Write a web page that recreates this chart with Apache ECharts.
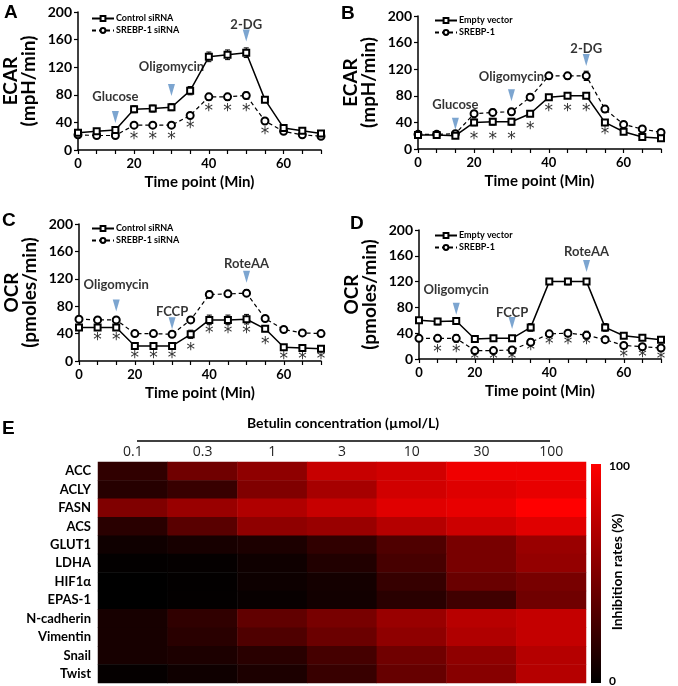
<!DOCTYPE html>
<html>
<head>
<meta charset="utf-8">
<script src="https://cdn.jsdelivr.net/npm/echarts@6/dist/echarts.min.js"></script>
<style>
    html, body{ margin: 0; padding: 0; background: #fff;}
    #chart{ width: 678px; height: 686px;}
</style>
</head>
<body>
<div id="chart"></div>
<script>
// time points (min), only some are labelled
var times = ['0', '7', '13', '20', '25', '30', '35', '40', '45', '50', '55', '60', '65', '70'];
var shownTimes = ['0', '20', '40', '60'];

// A - ECAR, siRNA
var ctrlA = [25, 27, 29, 59, 60, 62, 86, 135, 138, 141, 73, 32, 28, 24];
var ctrlAErr = [3, 3, 3, 5, 5, 5, 6, 7, 7, 7, 4, 3, 3, 3];
var sirnaA = [22, 21, 21, 36, 36, 36, 50, 77, 77, 79, 42, 27, 22, 20];
var sirnaAErr = [3, 3, 3, 3, 3, 3, 4, 5, 5, 5, 3, 3, 3, 3];
var starsA = [null, null, null, 19, 19, 19, 35, 60, 60, 60, 26, null, null, null];
var drugsA = ['Glucose', 'Oligomycin', '2-DG'];
var drugAtA = ['13', '30', '50'];
var arrowYA = [48, 87, 166];
var drugYA = [77, 120, 181];

// B - ECAR, overexpression
var emptyB = [21, 21, 20, 40, 41, 41, 53, 78, 80, 80, 40, 26, 18, 16];
var emptyBErr = [3, 3, 3, 5, 5, 5, 3, 3, 3, 3, 4, 3, 3, 3];
var srebpB = [22, 22, 23, 53, 55, 56, 78, 110, 110, 110, 60, 37, 30, 25];
var srebpBErr = [3, 3, 3, 4, 5, 5, 5, 5, 5, 7, 5, 3, 4, 3];
var starsB = [null, null, null, 18, 18, 18, 34, 61, 61, 61, 26, null, null, null];
var drugsB = ['Glucose', 'Oligomycin', '2-DG'];
var drugAtB = ['13', '30', '50'];
var arrowYB = [38, 81, 134];
var drugYB = [66, 108, 151];

// C - OCR, siRNA
var ctrlC = [49, 49, 49, 22, 22, 22, 39, 60, 60, 61, 47, 20, 19, 18];
var ctrlCErr = [4, 4, 4, 4, 4, 4, 6, 7, 7, 7, 4, 3, 3, 3];
var sirnaC = [61, 60, 60, 40, 40, 39, 60, 97, 98, 99, 62, 46, 41, 40];
var sirnaCErr = [3, 3, 3, 3, 3, 3, 4, 5, 4, 5, 4, 3, 3, 3];
var starsC = [null, 34, 34, 8, 8, 8, 20, 44, 44, 44, 29, 7, 7, 7];
var drugsC = ['Oligomycin', 'FCCP', 'RoteAA'];
var drugAtC = ['13', '30', '50'];
var arrowYC = [81, 55, 123];
var drugYC = [111, 72, 142];

// D - OCR, overexpression
var emptyD = [60, 58, 59, 31, 32, 32, 49, 120, 120, 120, 49, 36, 33, 30];
var emptyDErr = [4, 5, 5, 3, 3, 3, 6, 4, 5, 4, 6, 4, 4, 3];
var srebpD = [32, 32, 32, 13, 13, 14, 26, 39, 40, 37, 30, 21, 19, 17];
var srebpDErr = [4, 4, 6, 4, 3, 3, 5, 3, 5, 6, 4, 3, 3, 3];
var starsD = [null, 14, 14, 4, 4, 4, 17, 27, 27, 27, 29, 7, 7, 3];
var drugsD = ['Oligomycin', 'FCCP', 'RoteAA'];
var drugAtD = ['13', '30', '50'];
var arrowYD = [78, 56, 144];
var drugYD = [107, 71, 166];

// E - heatmap, inhibition rates (%)
var concs = ['0.1', '0.3', '1', '3', '10', '30', '100'];
var genes = ['ACC', 'ACLY', 'FASN', 'ACS', 'GLUT1', 'LDHA', 'HIF1α', 'EPAS-1', 'N-cadherin', 'Vimentin', 'Snail', 'Twist'];
var inhibition = [
    [19, 44, 56, 78, 82, 94, 94],
    [15, 22, 50, 65, 82, 87, 91],
    [50, 60, 69, 78, 88, 91, 100],
    [16, 35, 56, 60, 71, 80, 88],
    [6, 9, 11, 19, 31, 47, 60],
    [1, 2, 6, 13, 28, 47, 58],
    [0, 1, 5, 8, 21, 41, 47],
    [0, 1, 3, 7, 16, 25, 44],
    [9, 19, 38, 47, 60, 72, 77],
    [9, 16, 31, 42, 56, 69, 77],
    [9, 11, 16, 27, 44, 56, 71],
    [2, 6, 11, 22, 40, 53, 71]
];

var FONT = 'Lato';
var ARROW = '#5b8fc4';

function errBar(params, api){
    var x = api.value(0), v = api.value(1), e = api.value(2);
    var t = api.coord([x, v + e]), b = api.coord([x, v - e]);
    var w = 2.5;
    var st = { stroke: '#000', lineWidth: 1 };
    return { type: 'group', children: [
        { type: 'line', shape: { x1: t[0], y1: t[1], x2: b[0], y2: b[1] }, style: st },
        { type: 'line', shape: { x1: t[0] - w, y1: t[1], x2: t[0] + w, y2: t[1] }, style: st },
        { type: 'line', shape: { x1: b[0] - w, y1: b[1], x2: b[0] + w, y2: b[1] }, style: st }
    ]};
}

function starText(params, api){
    var p = api.coord([api.value(0), api.value(1)]);
    return { type: 'text', x: p[0], y: p[1] + 3,
        style: { text: '*', fontSize: 17, fontFamily: 'DejaVu Sans', fill: '#333', align: 'center', verticalAlign: 'middle' } };
}

function withErr(vals, errs){
    return vals.map(function(v, i){ return [i, v, errs[i]]; });
}

function panel(k, n1, s1, e1, n2, s2, e2, stars, drugs, drugAt, arrowY, drugY){
    var ax = { xAxisIndex: k, yAxisIndex: k };
    return [
        Object.assign({ type: 'custom', renderItem: errBar, data: withErr(s2, e2), z: 2, silent: true }, ax),
        Object.assign({ type: 'custom', renderItem: errBar, data: withErr(s1, e1), z: 2, silent: true }, ax),
        Object.assign({ name: n2, type: 'line', data: s2, symbol: 'emptyCircle', symbolSize: 7,
            lineStyle: { color: '#000', width: 1.2, type: [4, 3] },
            itemStyle: { color: '#000', borderWidth: 1 }, z: 3 }, ax),
        Object.assign({ name: n1, type: 'line', data: s1, symbol: 'emptyRect', symbolSize: 6,
            lineStyle: { color: '#000', width: 1.5 },
            itemStyle: { color: '#000', borderWidth: 1 }, z: 4 }, ax),
        Object.assign({ type: 'custom', renderItem: starText, silent: true,
            data: stars.map(function(v, i){ return v === null ? null : [i, v]; }).filter(function(d){ return d; }) }, ax),
        Object.assign({ type: 'scatter', symbol: 'triangle', symbolRotate: 180, symbolSize: [7, 12],
            itemStyle: { color: ARROW }, silent: true,
            data: drugAt.map(function(t, i){ return [t, arrowY[i]]; }) }, ax),
        Object.assign({ type: 'scatter', symbolSize: 0, silent: true,
            label: { show: true, position: 'inside', formatter: function(p){ return drugs[p.dataIndex]; },
                color: '#000', fontSize: 13, fontWeight: 'bold', fontFamily: FONT },
            data: drugAt.map(function(t, i){ return [t, drugY[i]]; }) }, ax)
    ];
}

function lineX(k){
    return {
        gridIndex: k, type: 'category', data: times, boundaryGap: false,
        name: 'Time point (Min)', nameLocation: 'middle', nameGap: 25,
        nameTextStyle: { fontSize: 15, fontWeight: 'bold', color: '#000', fontFamily: FONT },
        axisLine: { lineStyle: { color: '#000', width: 1.5 } },
        axisTick: { interval: 0, length: 4, lineStyle: { color: '#000', width: 1.2 } },
        axisLabel: { interval: function(i, v){ return shownTimes.indexOf(v) >= 0; },
            fontSize: 13, fontWeight: 'bold', color: '#000', margin: 7, fontFamily: FONT },
        splitLine: { show: false }
    };
}

function lineY(k, title){
    return {
        gridIndex: k, type: 'value', min: 0, max: 200, interval: 40,
        name: title, nameLocation: 'middle', nameGap: 40, nameRotate: 90,
        nameTextStyle: { fontSize: 19, fontWeight: 'bold', color: '#000', lineHeight: 18, fontFamily: FONT },
        axisLine: { show: true, lineStyle: { color: '#000', width: 1.5 } },
        axisTick: { show: true, length: 4, lineStyle: { color: '#000', width: 1.2 } },
        axisLabel: { fontSize: 14, fontWeight: 'bold', color: '#000', margin: 6, fontFamily: FONT },
        splitLine: { show: false }
    };
}

function legendAt(left, top, names){
    return { data: names, left: left, top: top, orient: 'vertical', itemGap: 3,
        itemWidth: 22, itemHeight: 6, selectedMode: false,
        textStyle: { fontSize: 9, fontWeight: 'bold', color: '#000', fontFamily: FONT, padding: [0, 0, 0, -3] } };
}

var heatData = [];
genes.forEach(function(g, r){
    concs.forEach(function(c, ci){ heatData.push([ci, r, inhibition[r][ci]]); });
});

var chart = echarts.init(document.getElementById('chart'));
var series = [].concat(
    panel(0, 'Control siRNA', ctrlA, ctrlAErr, 'SREBP-1 siRNA', sirnaA, sirnaAErr, starsA, drugsA, drugAtA, arrowYA, drugYA),
    panel(1, 'Empty vector', emptyB, emptyBErr, 'SREBP-1', srebpB, srebpBErr, starsB, drugsB, drugAtB, arrowYB, drugYB),
    panel(2, 'Control siRNA', ctrlC, ctrlCErr, 'SREBP-1 siRNA', sirnaC, sirnaCErr, starsC, drugsC, drugAtC, arrowYC, drugYC),
    panel(3, 'Empty vector', emptyD, emptyDErr, 'SREBP-1', srebpD, srebpDErr, starsD, drugsD, drugAtD, arrowYD, drugYD)
);
series.push({ type: 'heatmap', xAxisIndex: 4, yAxisIndex: 4, data: heatData, silent: true });

var letter = function(t, x, y){
    return { type: 'text', left: x, top: y, style: { text: t, fontSize: 19, fontWeight: 'bold', fontFamily: 'Liberation Sans', fill: '#000' } };
};

chart.setOption({
    animation: false,
    textStyle: { fontFamily: FONT },
    grid: [
        { left: 78, top: 12, width: 243, height: 138 },
        { left: 418, top: 16, width: 243, height: 133 },
        { left: 79, top: 224, width: 242, height: 137 },
        { left: 419, top: 230, width: 242, height: 129 },
        { left: 98, top: 462, width: 488, height: 221 }
    ],
    legend: [
        legendAt(86, 9, ['Control siRNA', 'SREBP-1 siRNA']),
        legendAt(429, 11, ['Empty vector', 'SREBP-1']),
        legendAt(86, 219, ['Control siRNA', 'SREBP-1 siRNA']),
        legendAt(429, 226, ['Empty vector', 'SREBP-1'])
    ],
    xAxis: [lineX(0), lineX(1), lineX(2), lineX(3), {
        gridIndex: 4, type: 'category', data: concs, position: 'top',
        axisLine: { show: false }, axisTick: { show: false },
        axisLabel: { fontSize: 14, color: '#222', margin: 3, fontFamily: 'Open Sans' }
    }],
    yAxis: [lineY(0, 'ECAR\n(mpH/min)'), lineY(1, 'ECAR\n(mpH/min)'),
        lineY(2, 'OCR\n(pmoles/min)'), lineY(3, 'OCR\n(pmoles/min)'), {
        gridIndex: 4, type: 'category', data: genes, inverse: true,
        axisLine: { show: false }, axisTick: { show: false },
        axisLabel: { fontSize: 13, fontWeight: 'bold', color: '#000', margin: 7, fontFamily: FONT }
    }],
    visualMap: {
        type: 'continuous', min: 0, max: 100, seriesIndex: series.length - 1, show: false,
        inRange: { color: ['#000000', '#ff0000'] }
    },
    graphic: [
        letter('A', 4, 3), letter('B', 341, 4), letter('C', 2, 211), letter('D', 350, 214), letter('E', 2, 419),
        { type: 'text', x: 343, y: 423, style: { text: 'Betulin concentration (µmol/L)', fontSize: 14, fontWeight: 'bold', fontFamily: FONT, fill: '#000', align: 'center', verticalAlign: 'middle' } },
        { type: 'line', shape: { x1: 137, y1: 441, x2: 550, y2: 441 }, style: { stroke: '#000', lineWidth: 1.5 } },
        { type: 'rect', shape: { x: 591, y: 464, width: 10, height: 219 },
            style: { fill: new echarts.graphic.LinearGradient(0, 0, 0, 1, [{ offset: 0, color: '#ff0000' }, { offset: 1, color: '#000000' }]) } },
        { type: 'text', x: 609, y: 466, style: { text: '100', fontSize: 12, fontWeight: 'bold', fontFamily: FONT, fill: '#000', verticalAlign: 'middle' } },
        { type: 'text', x: 609, y: 681, style: { text: '0', fontSize: 12, fontWeight: 'bold', fontFamily: FONT, fill: '#000', verticalAlign: 'middle' } },
        { type: 'text', x: 617, y: 572, rotation: Math.PI / 2, style: { text: 'Inhibition rates (%)', fontSize: 14, fontWeight: 'bold', fontFamily: FONT, fill: '#000', align: 'center', verticalAlign: 'middle' } }
    ],
    series: series
});
</script>
</body>
</html>
